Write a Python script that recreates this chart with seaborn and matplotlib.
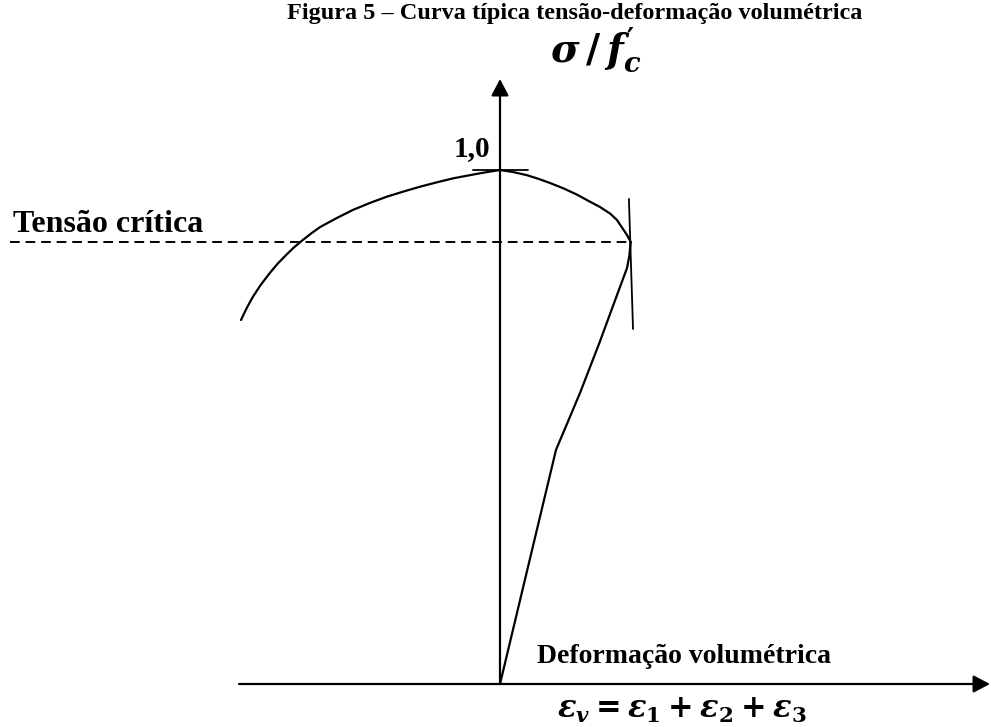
import matplotlib
matplotlib.use("Agg")
import matplotlib.pyplot as plt
import seaborn as sns
import pandas as pd

# Envelope of the stress-volumetric strain curve (normalised stress sigma/f'c)
envoltoria_def = [-0.5039, -0.4922, -0.4805, -0.4650, -0.4475, -0.4319, -0.4144,
                  -0.4008, -0.3852, -0.3677, -0.3502, -0.3171, -0.2860, -0.2529,
                  -0.2198, -0.1868, -0.1556, -0.1226, -0.0914, -0.0642, -0.0389,
                  -0.0195, 0.0, 0.0253, 0.0525, 0.0739, 0.0973, 0.1226, 0.1498,
                  0.1732, 0.1946, 0.2140, 0.2276, 0.2393, 0.2471, 0.2543]
envoltoria_tensao = [0.7082, 0.7325, 0.7537, 0.7772, 0.8000, 0.8185, 0.8364,
                     0.8494, 0.8626, 0.8763, 0.8889, 0.9068, 0.9224, 0.9360,
                     0.9482, 0.9584, 0.9675, 0.9761, 0.9837, 0.9889, 0.9936,
                     0.9969, 1.0, 0.9961, 0.9899, 0.9831, 0.9747, 0.9646, 0.9521,
                     0.9393, 0.9280, 0.9154, 0.9027, 0.8852, 0.8735, 0.8599]

# Loading branch from the origin up to the critical stress
ramo_def = [0.0, 0.1089, 0.1556, 0.1926, 0.2198, 0.2471, 0.2516, 0.2543]
ramo_tensao = [0.0, 0.4553, 0.5661, 0.6615, 0.7354, 0.8093, 0.8327, 0.8599]

tensao_pico = 1.0
tensao_critica = 0.8599
def_critica = 0.2543

titulo = "Figura 5 – Curva típica tensão-deformação volumétrica"
rotulo_pico = "1,0"
rotulo_critica = "Tensão crítica"
rotulo_x = "Deformação volumétrica"
eixo_y = r"$\sigma\,/\,f^{\prime}_{c}$"
eixo_x = r"$\varepsilon_{v} = \varepsilon_{\mathbf{1}} + \varepsilon_{\mathbf{2}} + \varepsilon_{\mathbf{3}}$"

sns.set_theme(style="white")
plt.rcParams["font.family"] = ["Liberation Serif", "DejaVu Serif"]
plt.rcParams["text.color"] = "black"
plt.rcParams["mathtext.fontset"] = "custom"
plt.rcParams["mathtext.rm"] = "DejaVu Serif:bold"
plt.rcParams["mathtext.bf"] = "DejaVu Serif:bold"
plt.rcParams["mathtext.it"] = "DejaVu Serif:italic:bold"

fig = plt.figure(figsize=(9.91, 7.27), dpi=100)
ax = fig.add_axes([0, 0, 1, 1])
ax.set_xlim(-500 / 514, 491 / 514)
ax.set_ylim(-43 / 514, 684 / 514)
ax.axis("off")

lw = 1.6
env = pd.DataFrame({"def": envoltoria_def, "tensao": envoltoria_tensao})
ramo = pd.DataFrame({"def": ramo_def, "tensao": ramo_tensao})
sns.lineplot(data=env, x="def", y="tensao", sort=False, color="black", lw=lw, ax=ax)
sns.lineplot(data=ramo, x="def", y="tensao", sort=False, color="black", lw=lw, ax=ax)

# axes with arrow heads
arrow = dict(arrowstyle="-|>,head_length=0.42,head_width=0.22", color="black",
             lw=lw, shrinkA=0, shrinkB=0, mutation_scale=24)
ax.annotate("", xy=(0, 605 / 514), xytext=(0, 0), arrowprops=arrow)
ax.annotate("", xy=(490 / 514, 0), xytext=(-261 / 514, 0), arrowprops=arrow)

# tangent at the peak and at the critical point
ax.plot([-0.0525, 0.0545], [tensao_pico, tensao_pico], color="black", lw=1.3)
ax.plot([def_critica - 0.0035, def_critica + 0.0045], [0.9436, 0.6907], color="black", lw=1.3)

# critical stress level
ax.plot([-490 / 514, def_critica], [tensao_critica, tensao_critica], color="black",
        lw=1.4, linestyle=(0, (5, 3)))

ax.text(-0.0545, tensao_pico + 0.015, rotulo_pico, ha="center", va="bottom",
        fontsize=21, fontweight="bold")
ax.text(-487 / 514, tensao_critica + 0.006, rotulo_critica, ha="left", va="bottom",
        fontsize=23, fontweight="bold")
ax.text(184 / 514, 0.03, rotulo_x, ha="center", va="bottom",
        fontsize=20, fontweight="bold")
ax.text(96 / 514, 1.234, eixo_y, ha="center", va="center", fontsize=28)
ax.text(182 / 514, -0.052, eixo_x, ha="center", va="center", fontsize=22)

fig.text(575 / 991, 1 - 13 / 727, titulo, ha="center", va="center", fontsize=17.5,
         fontweight="bold")

fig.savefig("out.png", dpi=100)
